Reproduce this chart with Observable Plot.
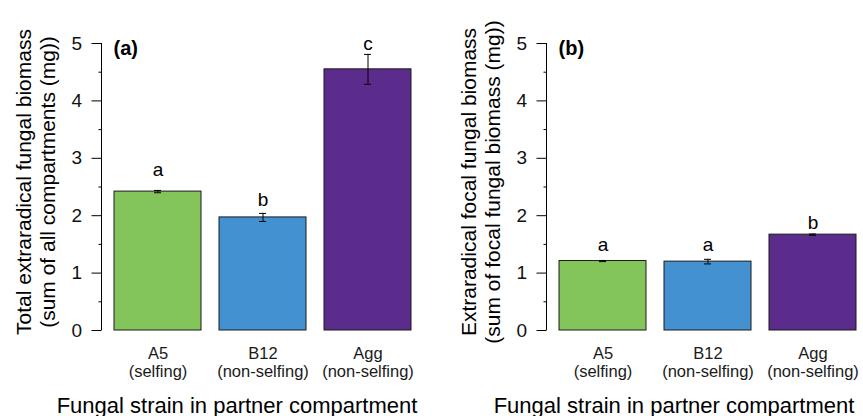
<!DOCTYPE html>
<html>
<head>
<meta charset="utf-8">
<script src="https://cdn.jsdelivr.net/npm/d3@7"></script>
<script src="https://cdn.jsdelivr.net/npm/@observablehq/plot@0.6"></script>
<style>
  html, body { margin: 0; padding: 0; background: #fff; }
  #wrap { display: flex; width: 863px; height: 416px; }
</style>
</head>
<body>
<div id="wrap"></div>
<script>
// ---- data ----
const categories = ["A5", "B12", "Agg"];
const categoryNotes = ["(selfing)", "(non-selfing)", "(non-selfing)"];
const barColors = ["#83C55B", "#4391D0", "#5B2C8C"];
const yTicks = [0, 1, 2, 3, 4, 5];
const yMinorTicks = [0.5, 1.5, 2.5, 3.5, 4.5];

// panel (a)
const totalMeans = [2.42, 1.97, 4.55];
const totalSE = [0.02, 0.07, 0.26];
const totalLetters = ["a", "b", "c"];
const totalLetterY = [2.79, 2.27, 5.0];

// panel (b)
const focalMeans = [1.21, 1.20, 1.67];
const focalSE = [0.01, 0.04, 0.01];
const focalLetters = ["a", "a", "b"];
const focalLetterY = [1.49, 1.49, 1.87];

const xTitle = "Fungal strain in partner compartment";

function panel(o) {
  const data = categories.map((c, i) => ({
    cat: c, mean: o.means[i], se: o.ses[i], letter: o.letters[i], ly: o.letterY[i]
  }));
  const axisGap = o.axisGap;
  const axisLine = (index, {y}, channels, dims) => {
    const g = d3.create("svg:g");
    g.append("line")
      .attr("x1", dims.marginLeft - axisGap).attr("x2", dims.marginLeft - axisGap)
      .attr("y1", y(0)).attr("y2", y(5))
      .attr("stroke", "#000").attr("stroke-width", 1);
    return g.node();
  };
  return Plot.plot({
    width: o.width,
    height: 416,
    marginTop: 43,
    marginBottom: 86,
    marginLeft: o.ml,
    marginRight: o.mr,
    style: {fontFamily: "'Liberation Sans', Arial, sans-serif", color: "#000", background: "#fff", overflow: "visible"},
    x: {domain: categories, paddingInner: 0.167, paddingOuter: 0, axis: null},
    y: {domain: [0, 5], axis: null},
    color: {domain: categories, range: barColors},
    marks: [
      axisLine,
      Plot.axisY({ticks: yTicks, tickSize: 10, tickPadding: 10, dx: -axisGap, fontSize: 19, label: null, stroke: "#000", tickFormat: d => String(d), fill: "#111"}),
      Plot.axisY({ticks: yMinorTicks, tickSize: 3, tickFormat: () => "", dx: -axisGap, label: null}),
      Plot.barY(data, {x: "cat", y: "mean", fill: "cat", stroke: "#1a1a1a", strokeWidth: 1}),
      Plot.ruleX(data, {x: "cat", y1: d => d.mean - d.se, y2: d => d.mean + d.se, stroke: "#000", strokeWidth: 1}),
      Plot.tickY(data, {x: "cat", y: d => d.mean + d.se, insetLeft: 40, insetRight: 40, stroke: "#000"}),
      Plot.tickY(data, {x: "cat", y: d => d.mean - d.se, insetLeft: 40, insetRight: 40, stroke: "#000"}),
      Plot.text(data, {x: "cat", y: "ly", text: "letter", fontSize: 19, lineAnchor: "middle", fill: "#000"}),
      Plot.axisX({tickSize: 0, tickPadding: 15, fontSize: 16.5, lineHeight: 1.12, label: null,
        tickFormat: d => d + "\n" + categoryNotes[categories.indexOf(d)], fill: "#1a1a1a"}),
      Plot.text([o.yTitle], {frameAnchor: "left", textAnchor: "middle", rotate: -90, dx: -79, dy: -5, fontSize: 21, lineHeight: 1.15, lineAnchor: "middle", fill: "#000"}),
      Plot.text([xTitle], {frameAnchor: "bottom", textAnchor: "middle", dx: o.xTitleDx, dy: 75, fontSize: 22, lineAnchor: "middle", fill: "#000"}),
      Plot.text([o.panelLabel], {frameAnchor: "top-left", textAnchor: "start", dx: o.plDx, dy: 5, fontSize: 20, fontWeight: "bold", lineAnchor: "middle", fill: "#000"})
    ]
  });
}

const wrap = document.getElementById("wrap");
wrap.appendChild(panel({
  width: 431, ml: 114, mr: 19, axisGap: 12.5,
  means: totalMeans, ses: totalSE, letters: totalLetters, letterY: totalLetterY,
  yTitle: "Total extraradical fungal biomass\n(sum of all compartments (mg))",
  xTitleDx: -26.5, panelLabel: "(a)", plDx: -1
}));
wrap.appendChild(panel({
  width: 432, ml: 128, mr: 6, axisGap: 12.5,
  means: focalMeans, ses: focalSE, letters: focalLetters, letterY: focalLetterY,
  yTitle: "Extraradical focal fungal biomass\n(sum of focal fungal biomass (mg))",
  xTitleDx: -34.5, panelLabel: "(b)", plDx: -1
}));
</script>
</body>
</html>
